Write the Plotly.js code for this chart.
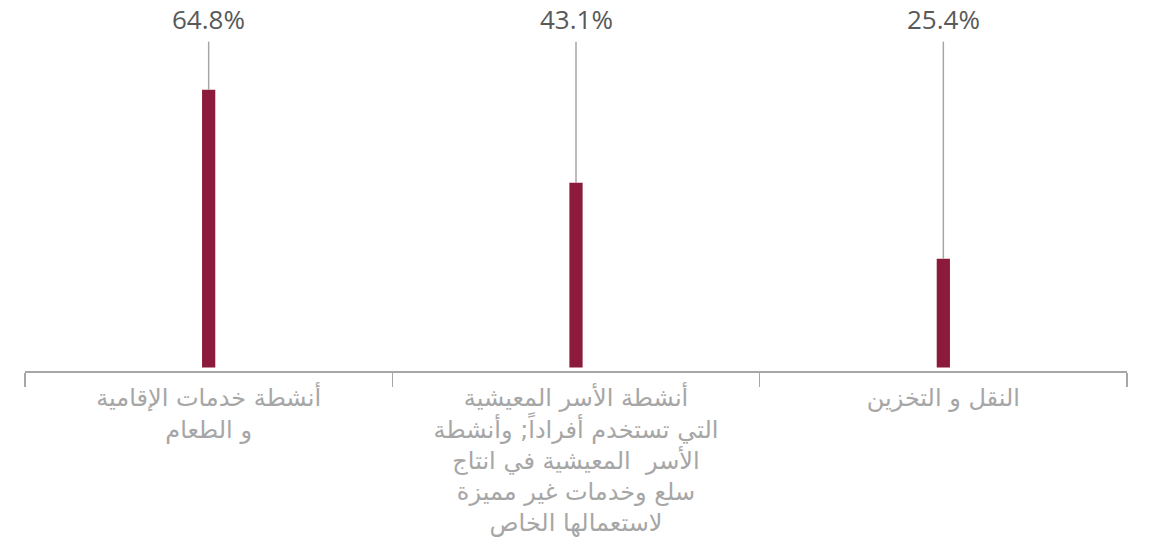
<!DOCTYPE html>
<html>
<head>
<meta charset="utf-8">
<script src="https://cdn.plot.ly/plotly-3.0.1.min.js"></script>
<style>html,body{margin:0;padding:0;background:#fff;}#chart{width:1167px;height:547px;}</style>
</head>
<body>
<div id="chart"></div>
<script>
const categories = [
  "أنشطة خدمات الإقامية<br>و الطعام",
  "أنشطة الأسر المعيشية<br>التي تستخدم أفراداً; وأنشطة<br>الأسر  المعيشية في انتاج<br>سلع وخدمات غير مميزة<br>لاستعمالها الخاص",
  "النقل و التخزين"
];
const values = [64.8, 43.1, 25.4];
const valueLabels = ["64.8%", "43.1%", "25.4%"];

const barColor = "#8B1A3C";
const grey = "#A6A6A6";
const leaderTop = 76;
const labelY = 81.2;

const shapes = values.map((v, i) => ({
  type: "line", xref: "x", yref: "y",
  x0: i, x1: i, y0: v, y1: leaderTop,
  line: {color: grey, width: 1.5}
}));
const annotations = values.map((v, i) => ({
  xref: "x", yref: "y", x: i, y: labelY,
  text: valueLabels[i], showarrow: false,
  font: {family: "Open Sans, Noto Sans, sans-serif", size: 26, color: "#595959"}
}));

const trace = {
  type: "bar",
  x: categories,
  y: values,
  width: 0.036,
  marker: {color: barColor},
  hoverinfo: "skip"
};

const layout = {
  width: 1167, height: 547,
  margin: {l: 25, r: 40, t: 10, b: 176},
  paper_bgcolor: "#fff", plot_bgcolor: "#fff",
  showlegend: false,
  xaxis: {
    type: "category",
    tickson: "boundaries",
    ticks: "outside", ticklen: 14, tickwidth: 1.5, tickcolor: grey,
    ticklabelstandoff: 5,
    showline: true, linecolor: grey, linewidth: 1.5,
    showgrid: false, zeroline: false,
    tickfont: {family: "DejaVu Sans, sans-serif", size: 24, color: grey}
  },
  yaxis: {
    range: [-0.8, 83.4],
    visible: false, showgrid: false, zeroline: false
  },
  shapes: shapes,
  annotations: annotations
};

Plotly.newPlot("chart", [trace], layout, {displayModeBar: false, staticPlot: true});
</script>
</body>
</html>
